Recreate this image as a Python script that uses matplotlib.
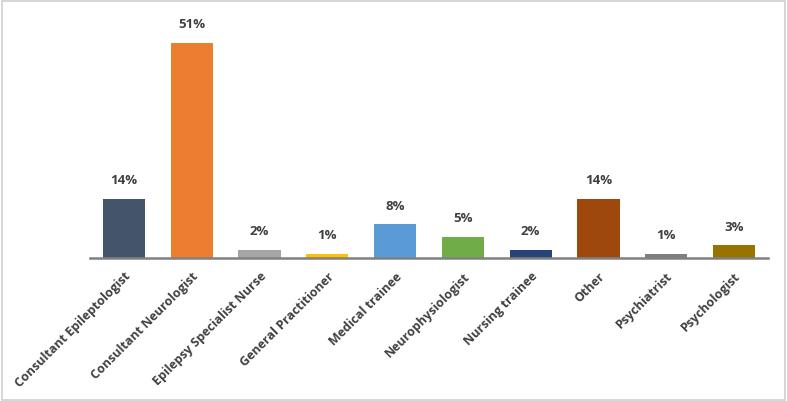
import matplotlib
matplotlib.use("Agg")
import matplotlib.pyplot as plt
from matplotlib.patches import Rectangle

categories = ["Consultant Epileptologist", "Consultant Neurologist", "Epilepsy Specialist Nurse",
              "General Practitioner", "Medical trainee", "Neurophysiologist", "Nursing trainee",
              "Other", "Psychiatrist", "Psychologist"]
values = [14, 51, 2, 1, 8, 5, 2, 14, 1, 3]
colors = ["#44546A", "#ED7D31", "#A5A5A5", "#FFC000", "#5B9BD5", "#70AD47", "#264478",
          "#9E480E", "#7F7F7F", "#997300"]

FONT = ["Open Sans", "DejaVu Sans"]

fig = plt.figure(figsize=(7.87, 4.02), dpi=100)
ax = fig.add_axes([90/787, 143/402, 678/787, 239/402])
x = range(len(categories))
ax.bar(x, values, width=0.62, color=colors)
ax.set_xlim(-0.5, len(categories) - 0.5)
ax.set_ylim(0, 51 * 239 / 215)
for i, v in enumerate(values):
    ax.annotate(f"{v}%", (i, v), xytext=(0, 9), textcoords="offset points",
                ha="center", va="bottom", fontsize=9.5, fontweight="bold",
                color="#404040", family=FONT)
ax.set_xticks(list(x))
ax.set_xticklabels(categories, rotation=45, ha="right", rotation_mode="anchor",
                   fontsize=9, fontweight="bold", color="#404040", family=FONT)
ax.tick_params(axis="x", length=0, pad=8)
ax.set_yticks([])
for s in ["top", "right", "left"]:
    ax.spines[s].set_visible(False)
ax.spines["bottom"].set_color("#808080")
ax.spines["bottom"].set_linewidth(1.8)

fig.patches.append(Rectangle((0.002, 0.003), 0.995, 0.993, transform=fig.transFigure,
                             fill=False, edgecolor="#D0D0D0", linewidth=1.2))
fig.savefig("out.png", dpi=100)
